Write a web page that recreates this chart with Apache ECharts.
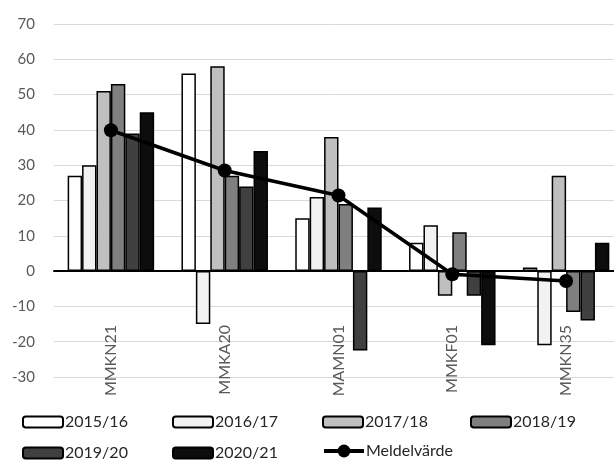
<!DOCTYPE html>
<html>
<head>
<meta charset="utf-8">
<script src="https://cdn.jsdelivr.net/npm/echarts@6/dist/echarts.min.js"></script>
<style>
  html, body { margin: 0; padding: 0; background: #fff; }
  #chart { width: 614px; height: 468px; }
</style>
</head>
<body>
<div id="chart"></div>
<script>
const categories = ['MMKN21', 'MMKA20', 'MAMN01', 'MMKF01', 'MMKN35'];
const s2015_16 = [27, 56, 15, 8, 1];
const s2016_17 = [30, -15, 21, 13, -21];
const s2017_18 = [51, 58, 38, -7, 27];
const s2018_19 = [53, 27, 19, 11, -11.6];
const s2019_20 = [39, 24, -22.5, -7, -14];
const s2020_21 = [45, 34, 18, -21, 8];
const meldelvarde = [39.9, 28.5, 21.4, -0.9, -2.8];
const seriesNames = ['2015/16', '2016/17', '2017/18', '2018/19', '2019/20', '2020/21'];
const lineName = 'Meldelvärde';

const barData = [s2015_16, s2016_17, s2017_18, s2018_19, s2019_20, s2020_21];
const barColors = ['#ffffff', '#f2f2f2', '#bfbfbf', '#7f7f7f', '#404040', '#0d0d0d'];

const FONT = 'Lato';

const series = barData.map((d, i) => ({
  name: seriesNames[i],
  type: 'bar',
  data: d,
  barGap: '0%',
  barCategoryGap: '24%',
  itemStyle: { color: barColors[i], borderColor: '#000', borderWidth: 1.5 },
  z: 2
}));
series.push({
  name: lineName,
  type: 'line',
  data: meldelvarde,
  symbol: 'circle',
  symbolSize: 14,
  color: '#000',
  lineStyle: { color: '#000', width: 3.5 },
  itemStyle: { color: '#000' },
  z: 5
});

const legendPos = [
  [22, 414], [172, 414], [322, 414], [470, 414],
  [22, 445], [172, 445], [322, 445]
];
const allNames = seriesNames.concat([lineName]);
const legends = allNames.map((n, i) => {
  const isLine = n === lineName;
  return {
    data: [n],
    left: legendPos[i][0],
    top: legendPos[i][1] - (isLine ? 2 : 0),
    padding: 0,
    itemWidth: 40,
    itemHeight: isLine ? 16 : 11,
    itemGap: 0,
    lineStyle: isLine ? { width: 4, color: '#000' } : undefined,
    textStyle: { fontFamily: FONT, fontSize: 16, color: '#262626', padding: [0, 0, 0, -3] }
  };
});

const chart = echarts.init(document.getElementById('chart'), null, { renderer: 'canvas' });
chart.setOption({
  animation: false,
  backgroundColor: '#fff',
  grid: { left: 54, right: -9, top: 24, bottom: 91, containLabel: false, outerBoundsMode: 'none' },
  legend: legends,
  xAxis: {
    type: 'category',
    data: categories,
    axisLine: { onZero: true, lineStyle: { color: '#000', width: 2 } },
    axisTick: { show: false },
    axisLabel: { rotate: 90, margin: -52, fontFamily: FONT, fontSize: 16, color: '#595959' },
    splitLine: { show: false }
  },
  yAxis: {
    type: 'value',
    min: -30,
    max: 70,
    interval: 10,
    axisLine: { show: false },
    axisTick: { show: false },
    axisLabel: { margin: 19, fontFamily: FONT, fontSize: 15, color: '#595959' },
    splitLine: { lineStyle: { color: '#d9d9d9', width: 1 } }
  },
  series: series
});
</script>
</body>
</html>
